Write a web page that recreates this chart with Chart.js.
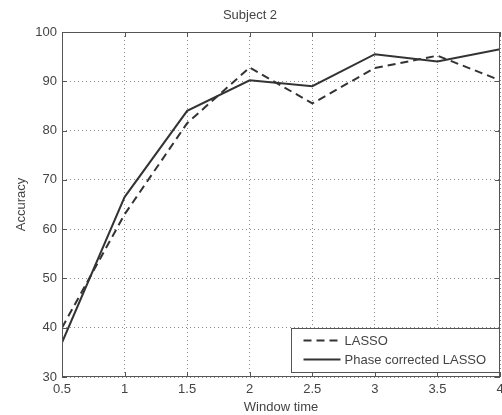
<!DOCTYPE html>
<html>
<head>
<meta charset="utf-8">
<script src="https://cdn.jsdelivr.net/npm/chart.js@4"></script>
<style>
    html, body { margin: 0; padding: 0; background: #fff; }
    #wrap { width: 502px; height: 415px; }
</style>
</head>
<body>
<div id="wrap"><canvas id="accChart" width="502" height="415"></canvas></div>
<script>
// Werte
const windowTimes = [0.5, 1, 1.5, 2, 2.5, 3, 3.5, 4];
const lassoAcc = [40, 63, 81.5, 92.8, 85.5, 92.7, 95.2, 90.2];
const phaseAcc = [37, 66.5, 84, 90.2, 89, 95.5, 94, 96.5];
const yTicks = [30, 40, 50, 60, 70, 80, 90, 100];
const seriesNames = ['LASSO', 'Phase corrected LASSO'];

const textColor = '#444';
const axisColor = '#555';
const lineColor = '#333';
const fontFamily = '"Liberation Sans", Arial, Helvetica, sans-serif';

function toPoints(values)
{
    return values.map((v, i) => ({ x: windowTimes[i], y: v }));
}

// Rahmen, Ticks nach innen und Legende wie in MATLAB
const matlabBoxPlugin = {
    id: 'matlabBox',
    afterDraw(chart)
    {
        const ctx = chart.ctx;
        const area = chart.chartArea;
        const xs = chart.scales.x;
        const ys = chart.scales.y;
        const tl = 5;

        ctx.save();
        ctx.strokeStyle = axisColor;
        ctx.lineWidth = 1;
        ctx.setLineDash([]);
        ctx.beginPath();
        xs.ticks.forEach(t =>
        {
            const px = Math.round(xs.getPixelForValue(t.value)) + 0.5;
            ctx.moveTo(px, area.bottom);
            ctx.lineTo(px, area.bottom - tl);
            ctx.moveTo(px, area.top);
            ctx.lineTo(px, area.top + tl);
        });
        ys.ticks.forEach(t =>
        {
            const py = Math.round(ys.getPixelForValue(t.value)) + 0.5;
            ctx.moveTo(area.left, py);
            ctx.lineTo(area.left + tl, py);
            ctx.moveTo(area.right, py);
            ctx.lineTo(area.right - tl, py);
        });
        ctx.stroke();
        ctx.strokeRect(Math.round(area.left) + 0.5, Math.round(area.top) + 0.5,
            Math.round(area.right - area.left) - 1, Math.round(area.bottom - area.top) - 1);

        // Legende unten rechts
        const w = 209, h = 44;
        const lx = Math.round(area.right - w) + 0.5;
        const ly = Math.round(area.bottom - 5 - h) + 0.5;
        ctx.fillStyle = '#fff';
        ctx.fillRect(lx, ly, w - 1, h);
        ctx.strokeRect(lx, ly, w - 1, h);

        ctx.font = '13px ' + fontFamily;
        ctx.textBaseline = 'middle';
        ctx.textAlign = 'left';
        chart.data.datasets.forEach((ds, i) =>
        {
            const cy = ly + 12 + i * 19;
            ctx.strokeStyle = ds.borderColor;
            ctx.lineWidth = ds.borderWidth;
            ctx.setLineDash(ds.borderDash || []);
            ctx.beginPath();
            ctx.moveTo(lx + 12, cy);
            ctx.lineTo(lx + 49, cy);
            ctx.stroke();
            ctx.fillStyle = textColor;
            ctx.fillText(ds.label, lx + 53, cy + 1);
        });
        ctx.restore();
    }
};

document.addEventListener('DOMContentLoaded', function ()
{
    const ctx = document.getElementById('accChart').getContext('2d');

    new Chart(ctx, {
        type: 'line',
        data: {
            datasets: [
                {
                    label: seriesNames[0],
                    data: toPoints(lassoAcc),
                    borderColor: lineColor,
                    borderWidth: 2,
                    borderDash: [8, 5],
                    pointRadius: 0,
                    fill: false,
                    tension: 0,
                },
                {
                    label: seriesNames[1],
                    data: toPoints(phaseAcc),
                    borderColor: lineColor,
                    borderWidth: 2,
                    pointRadius: 0,
                    fill: false,
                    tension: 0,
                },
            ],
        },
        options: {
            responsive: false,
            animation: false,
            events: [],
            layout: {
                padding: { top: 0, right: 2, bottom: 0, left: 0 }
            },
            scales: {
                x: {
                    type: 'linear',
                    min: 0.5,
                    max: 4,
                    ticks: {
                        stepSize: 0.5,
                        padding: 5,
                        color: textColor,
                        font: { family: fontFamily, size: 13 },
                        maxRotation: 0,
                        callback: function (value)
                        {
                            return String(value);
                        },
                    },
                    grid: {
                        color: '#8a8a8a',
                        lineWidth: 1,
                        drawTicks: false,
                    },
                    border: {
                        display: false,
                        dash: [1, 3],
                    },
                    title: {
                        display: true,
                        text: 'Window time',
                        color: textColor,
                        font: { family: fontFamily, size: 13 },
                        padding: { top: 0, bottom: 0 },
                    },
                    afterFit: function (scale)
                    {
                        scale.height = 38;
                        scale.paddingLeft = 0;
                        scale.paddingRight = 0;
                    },
                },
                y: {
                    min: 30,
                    max: 100,
                    afterBuildTicks: function (scale)
                    {
                        scale.ticks = yTicks.map(v => ({ value: v }));
                    },
                    ticks: {
                        padding: 5,
                        color: textColor,
                        font: { family: fontFamily, size: 13 },
                    },
                    grid: {
                        color: '#8a8a8a',
                        lineWidth: 1,
                        drawTicks: false,
                    },
                    border: {
                        display: false,
                        dash: [1, 3],
                    },
                    title: {
                        display: true,
                        text: 'Accuracy',
                        color: textColor,
                        font: { family: fontFamily, size: 13 },
                        padding: { top: 14, bottom: 0 },
                    },
                    afterFit: function (scale)
                    {
                        scale.width = 62;
                    },
                },
            },
            plugins: {
                legend: { display: false },
                tooltip: { enabled: false },
                title: {
                    display: true,
                    text: 'Subject 2',
                    color: textColor,
                    font: { family: fontFamily, size: 13, weight: 'normal' },
                    padding: { top: 8, bottom: 8.4 },
                },
            },
        },
        plugins: [matlabBoxPlugin],
    });
});
</script>
</body>
</html>
